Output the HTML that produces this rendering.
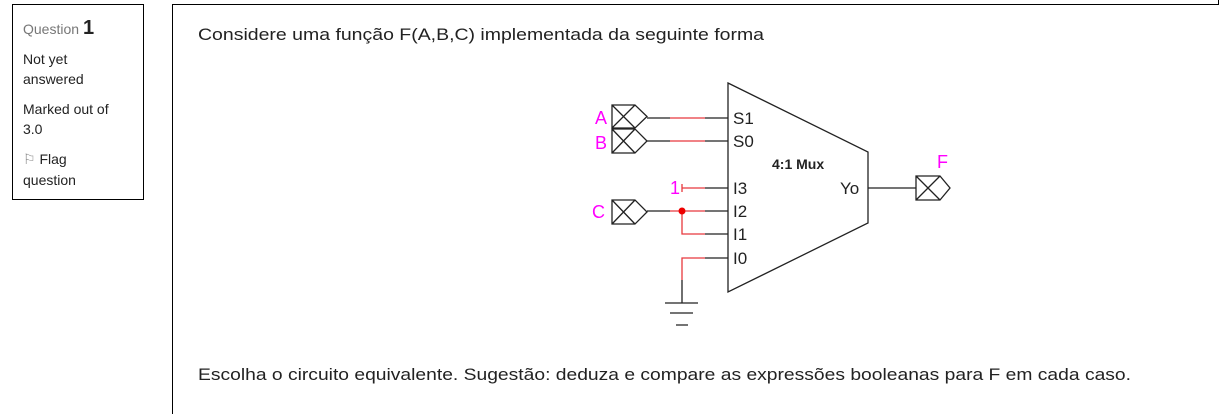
<!DOCTYPE html>
<html><head><meta charset="utf-8"><style>
body{margin:0;width:1224px;height:414px;background:#fff;overflow:hidden;font-family:"Liberation Sans",sans-serif}
</style></head><body>
<svg width="1224" height="414" xmlns="http://www.w3.org/2000/svg" style="position:absolute;left:0;top:0" font-family="Liberation Sans, sans-serif">
<rect x="12.5" y="4.5" width="131" height="195" fill="none" stroke="#000"/>
<text x="23" y="34" font-size="14" fill="#777">Question <tspan font-size="20" fill="#222" font-weight="bold">1</tspan></text>
<g font-size="14" fill="#222">
<text x="23" y="64">Not yet</text><text x="23" y="84">answered</text>
<text x="23" y="114">Marked out of</text><text x="23" y="134">3.0</text>
<text x="23" y="164"><tspan fill="#888">⚐</tspan> Flag</text><text x="23" y="185">question</text>
</g>
<path d="M172.5 414V4.5H1218.5V0" fill="none" stroke="#000"/>
<text x="198" y="40" font-size="17" fill="#222" textLength="566" lengthAdjust="spacingAndGlyphs">Considere uma função F(A,B,C) implementada da seguinte forma</text>
<text x="198" y="380" font-size="17" fill="#222" textLength="933" lengthAdjust="spacingAndGlyphs">Escolha o circuito equivalente. Sugestão: deduza e compare as expressões booleanas para F em cada caso.</text>
<g stroke="#222" stroke-width="1.3" fill="none">
<path d="M728 83L868 152V223L728 292Z"/>
<path d="M612 105h23l12 11.5l-12 11.5h-23ZM612 105l23 23M635 105l-23 23"/>
<path d="M612 129h23l12 12l-12 12h-23ZM612 129l23 24M635 129l-23 24"/>
<path d="M612 200h23l12 12l-12 12h-23ZM612 200l23 24M635 200l-23 24"/>
<path d="M916 176h24l10 12l-10 12h-24ZM916 176l24 24M940 176l-24 24"/>
<path d="M647 118h23M705 118h23M647 141h23M705 141h23M705 188h23M647 211h23M705 211h23M705 234h23M705 258h23M868 188h48"/>
<path d="M682 280v23M665 303h33M670 313h23M676 325h12"/>
</g>
<g stroke="#e8383d" stroke-width="1.3" fill="none">
<path d="M670 118h35M670 141h35M682 188h23M682 184v8M670 211h35M682 211v23h23M705 258h-23v22"/>
</g>
<circle cx="682" cy="211" r="3.5" fill="#e00"/>
<g font-size="18" fill="#ff00ff">
<text x="595" y="124">A</text><text x="595" y="149">B</text><text x="592" y="218">C</text>
<text x="670" y="194">1</text><text x="937" y="168">F</text>
</g>
<g font-size="17" fill="#222">
<text x="733" y="124">S1</text><text x="733" y="147">S0</text>
<text x="733" y="194">I3</text><text x="733" y="217">I2</text><text x="733" y="240">I1</text><text x="733" y="264">I0</text>
<text x="840" y="194">Yo</text>
</g>
<text x="772" y="169" font-size="14" font-weight="bold" fill="#222">4:1 Mux</text>
</svg>
</body></html>
